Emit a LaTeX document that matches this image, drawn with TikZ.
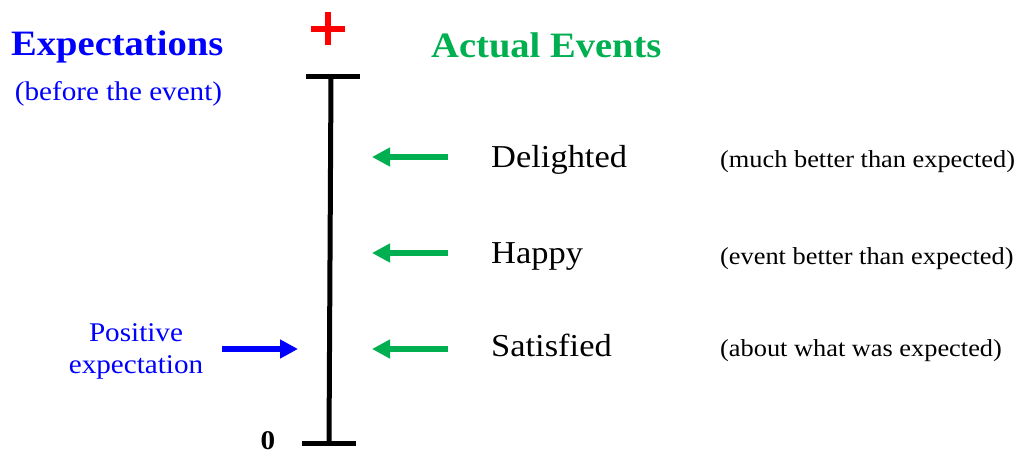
\documentclass[tikz,border=0pt]{standalone}
\usepackage{fontspec}
\setmainfont[FakeStretch=1.08]{Liberation Serif}
\usetikzlibrary{arrows.meta}
\definecolor{eblue}{RGB}{0,0,255}
\definecolor{egreen}{RGB}{0,176,80}
\definecolor{ered}{RGB}{255,0,0}
\tikzset{
  head/.style={font=\bfseries\fontsize{35.7}{40}\selectfont, inner sep=0pt},
  mid/.style={font=\fontsize{31.9}{36}\selectfont, inner sep=0pt},
  small/.style={font=\fontsize{24.4}{28}\selectfont, inner sep=0pt},
  lbl/.style={font=\fontsize{27}{32}\selectfont, inner sep=0pt, align=center},
  garrow/.style={egreen, line width=6pt, -{Triangle[length=18pt,width=18pt]}},
  barrow/.style={eblue, line width=6pt, -{Triangle[length=18pt,width=18pt]}},
  scaleline/.style={line width=5pt, black}
}
\begin{document}
\begin{tikzpicture}[x=1pt,y=-1pt]
\useasboundingbox (0,0) rectangle (1019,453);
% scale
\coordinate (top) at (331,76);
\coordinate (bot) at (329,443);
\coordinate (tl) at (306,76);
\coordinate (tr) at (360,76);
\coordinate (bl) at (302,443);
\coordinate (br) at (356,443);
\draw[scaleline] (top) -- (bot);
\draw[scaleline] (tl) -- (tr);
\draw[scaleline] (bl) -- (br);
% plus
\fill[ered] (311,26) rectangle (345,32);
\fill[ered] (325,12) rectangle (331,45);
\node[inner sep=0pt, font=\bfseries\fontsize{27}{30}\selectfont, anchor=base] (zero) at (268,449) {0};
% headings
\node[head, text=eblue, anchor=base west] (exp) at (11,55) {Expectations};
\node[inner sep=0pt, font=\fontsize{27}{30}\selectfont, text=eblue, anchor=base] (before) at (118.5,100) {(before the event)};
\node[head, text=egreen, anchor=base west] (act) at (431,57) {Actual Events};
% events
\node[mid, anchor=base west] (del) at (491,167) {Delighted};
\node[mid, anchor=base west] (hap) at (491,263) {Happy};
\node[mid, anchor=base west] (sat) at (491,356) {Satisfied};
\node[small, anchor=base west] (d2) at (720,167) {(much better than expected)};
\node[small, anchor=base west] (h2) at (720,264) {(event better than expected)};
\node[small, anchor=base west] (s2) at (720,356) {(about what was expected)};
% arrows
\coordinate (ga1) at (448,157);
\coordinate (gb1) at (372,157);
\coordinate (ga2) at (448,253);
\coordinate (gb2) at (372,253);
\coordinate (ga3) at (448,349);
\coordinate (gb3) at (372,349);
\draw[garrow] (ga1) -- (gb1);
\draw[garrow] (ga2) -- (gb2);
\draw[garrow] (ga3) -- (gb3);
\node[lbl, text=eblue] (pos) at (136,351) {Positive\\expectation};
\coordinate (ba) at (222,349);
\coordinate (bb) at (298,349);
\draw[barrow] (ba) -- (bb);
\end{tikzpicture}
\end{document}
